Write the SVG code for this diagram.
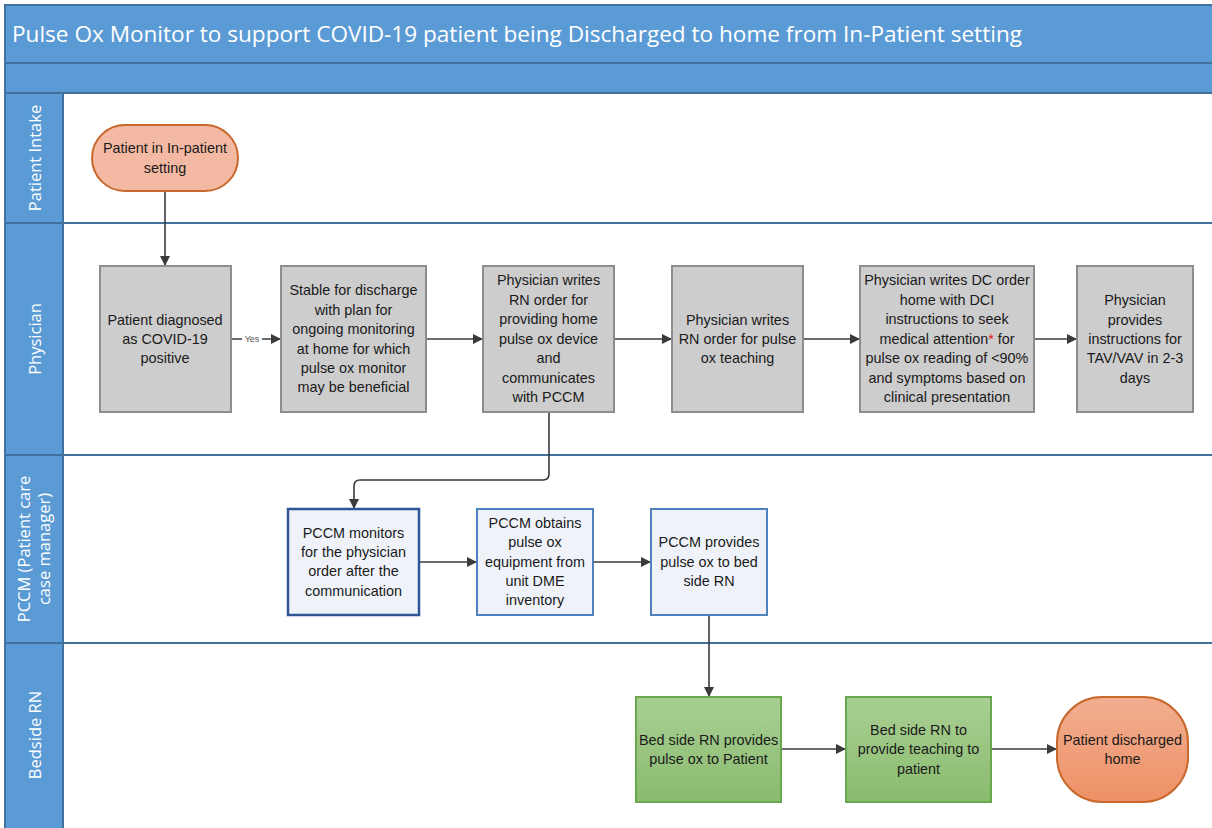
<svg xmlns="http://www.w3.org/2000/svg" width="1212" height="828" viewBox="0 0 1212 828">
  <defs>
    <marker id="arrow" markerWidth="10" markerHeight="10" refX="9" refY="5" orient="auto" markerUnits="userSpaceOnUse">
      <path d="M0,0 L10,5 L0,10 Z" fill="#3a3a3a"/>
    </marker>
    <linearGradient id="greenFill" x1="0" y1="0" x2="0" y2="1">
      <stop offset="0" stop-color="#a9cf94"/>
      <stop offset="1" stop-color="#8abb6e"/>
    </linearGradient>
    <linearGradient id="endFill" x1="0" y1="0" x2="0" y2="1">
      <stop offset="0" stop-color="#f1ae90"/>
      <stop offset="1" stop-color="#ee9166"/>
    </linearGradient>
    <style>
      .band { fill: #5b9bd5; stroke: #41719c; stroke-width: 2; }
      .lane-line { stroke: #41719c; stroke-width: 2; }
      .lane-label { font-family: "Open Sans", "Liberation Sans", sans-serif; font-size: 16.5px; fill: #ffffff; text-anchor: middle; }
      .title { font-family: "Open Sans", "Liberation Sans", sans-serif; font-size: 21px; fill: #ffffff; }
      .txt { font-family: "Liberation Sans", Arial, sans-serif; font-size: 14.4px; fill: #1a1a1a; text-anchor: middle; }
      .gray { fill: #cdcdcd; stroke: #8d8d8d; stroke-width: 2; }
      .pccm { fill: #eff2f9; stroke: #4f81bd; stroke-width: 2; }
      .pccm-dark { fill: #eff2f9; stroke: #2f5597; stroke-width: 2.5; }
      .green { fill: url(#greenFill); stroke: #6aa84f; stroke-width: 2; }
      .start { fill: #f4b9a3; stroke: #c8682c; stroke-width: 2; }
      .end { fill: url(#endFill); stroke: #c8682c; stroke-width: 2; }
      .conn { fill: none; stroke: #3a3a3a; stroke-width: 1.6; marker-end: url(#arrow); }
      .yes { font-family: "Liberation Sans", Arial, sans-serif; font-size: 9px; fill: #555555; text-anchor: middle; }
    </style>
  </defs>

  <rect width="1212" height="828" fill="#ffffff"/>

  <!-- pool header bands -->
  <rect class="band" x="5" y="5" width="1210" height="58"/>
  <text class="title" x="12" y="42" textLength="1010" lengthAdjust="spacingAndGlyphs">Pulse Ox Monitor to support COVID-19 patient being Discharged to home from In-Patient setting</text>
  <rect class="band" x="5" y="63" width="1210" height="30"/>

  <!-- lane header column -->
  <rect class="band" x="5" y="93" width="58" height="740"/>
  <line class="lane-line" x1="5" y1="223" x2="1212" y2="223"/>
  <line class="lane-line" x1="5" y1="455" x2="1212" y2="455"/>
  <line class="lane-line" x1="5" y1="643" x2="1212" y2="643"/>

  <text class="lane-label" transform="translate(41,158) rotate(-90)">Patient Intake</text>
  <text class="lane-label" transform="translate(41,339) rotate(-90)">Physician</text>
  <text class="lane-label" transform="translate(30,549) rotate(-90)">PCCM (Patient care</text>
  <text class="lane-label" transform="translate(50,549) rotate(-90)">case manager)</text>
  <text class="lane-label" transform="translate(41,735) rotate(-90)">Bedside RN</text>

  <!-- connectors -->
  <g id="connectors">
    <path class="conn" d="M165,191 L165,265"/>
    <path class="conn" d="M231,339 L280,339"/>
    <rect x="242" y="333" width="20" height="11" fill="#ffffff"/>
    <text class="yes" x="252" y="342">Yes</text>
    <path class="conn" d="M426,339 L482,339"/>
    <path class="conn" d="M614,339 L671,339"/>
    <path class="conn" d="M803,339 L859,339"/>
    <path class="conn" d="M1034,339 L1076,339"/>
    <path class="conn" d="M549,412 L549,474 Q549,480 543,480 L360,480 Q354,480 354,486 L354,508"/>
    <path class="conn" d="M419,562 L476,562"/>
    <path class="conn" d="M593,562 L650,562"/>
    <path class="conn" d="M709,615 L709,696"/>
    <path class="conn" d="M781,749 L845,749"/>
    <path class="conn" d="M991,749 L1056,749"/>
  </g>

  <!-- Patient Intake lane -->
  <g id="start">
    <rect class="start" x="92" y="125" width="146" height="66" rx="33" ry="33"/>
    <text class="txt" x="165" y="153">Patient in In-patient</text>
    <text class="txt" x="165" y="173">setting</text>
  </g>

  <!-- Physician lane -->
  <g id="diagnosed">
    <rect class="gray" x="100" y="266" width="131" height="146"/>
    <text class="txt" x="165" y="325">Patient diagnosed</text>
    <text class="txt" x="165" y="344">as COVID-19</text>
    <text class="txt" x="165" y="363">positive</text>
  </g>
  <g id="stable">
    <rect class="gray" x="281" y="266" width="145" height="146"/>
    <text class="txt" x="353.5" y="295">Stable for discharge</text>
    <text class="txt" x="353.5" y="315">with plan for</text>
    <text class="txt" x="353.5" y="334">ongoing monitoring</text>
    <text class="txt" x="353.5" y="354">at home for which</text>
    <text class="txt" x="353.5" y="373">pulse ox monitor</text>
    <text class="txt" x="353.5" y="392">may be beneficial</text>
  </g>
  <g id="rn-order-device">
    <rect class="gray" x="483" y="266" width="131" height="146"/>
    <text class="txt" x="548.5" y="285">Physician writes</text>
    <text class="txt" x="548.5" y="305">RN order for</text>
    <text class="txt" x="548.5" y="324">providing home</text>
    <text class="txt" x="548.5" y="344">pulse ox device</text>
    <text class="txt" x="548.5" y="363">and</text>
    <text class="txt" x="548.5" y="383">communicates</text>
    <text class="txt" x="548.5" y="402">with PCCM</text>
  </g>
  <g id="rn-order-teaching">
    <rect class="gray" x="672" y="266" width="131" height="146"/>
    <text class="txt" x="737.5" y="325">Physician writes</text>
    <text class="txt" x="737.5" y="344">RN order for pulse</text>
    <text class="txt" x="737.5" y="363">ox teaching</text>
  </g>
  <g id="dc-order">
    <rect class="gray" x="860" y="266" width="174" height="146"/>
    <text class="txt" x="947" y="285">Physician writes DC order</text>
    <text class="txt" x="947" y="305">home with DCI</text>
    <text class="txt" x="947" y="324">instructions to seek</text>
    <text class="txt" x="947" y="344">medical attention<tspan fill="#e02020">*</tspan> for</text>
    <text class="txt" x="947" y="363">pulse ox reading of &lt;90%</text>
    <text class="txt" x="947" y="383">and symptoms based on</text>
    <text class="txt" x="947" y="402">clinical presentation</text>
  </g>
  <g id="tav-vav">
    <rect class="gray" x="1077" y="266" width="116" height="146"/>
    <text class="txt" x="1135" y="305">Physician</text>
    <text class="txt" x="1135" y="325">provides</text>
    <text class="txt" x="1135" y="344">instructions for</text>
    <text class="txt" x="1135" y="363">TAV/VAV in 2-3</text>
    <text class="txt" x="1135" y="383">days</text>
  </g>

  <!-- PCCM lane -->
  <g id="pccm-monitors">
    <rect class="pccm-dark" x="288" y="509" width="131" height="106"/>
    <text class="txt" x="353.5" y="538">PCCM monitors</text>
    <text class="txt" x="353.5" y="557">for the physician</text>
    <text class="txt" x="353.5" y="576">order after the</text>
    <text class="txt" x="353.5" y="596">communication</text>
  </g>
  <g id="pccm-obtains">
    <rect class="pccm" x="477" y="509" width="116" height="106"/>
    <text class="txt" x="535" y="528">PCCM obtains</text>
    <text class="txt" x="535" y="547">pulse ox</text>
    <text class="txt" x="535" y="567">equipment from</text>
    <text class="txt" x="535" y="586">unit DME</text>
    <text class="txt" x="535" y="605">inventory</text>
  </g>
  <g id="pccm-provides">
    <rect class="pccm" x="651" y="509" width="116" height="106"/>
    <text class="txt" x="709" y="547">PCCM provides</text>
    <text class="txt" x="709" y="567">pulse ox to bed</text>
    <text class="txt" x="709" y="586">side RN</text>
  </g>

  <!-- Bedside RN lane -->
  <g id="rn-provides">
    <rect class="green" x="636" y="697" width="145" height="105"/>
    <text class="txt" x="708.5" y="745">Bed side RN provides</text>
    <text class="txt" x="708.5" y="764">pulse ox to Patient</text>
  </g>
  <g id="rn-teaching">
    <rect class="green" x="846" y="697" width="145" height="105"/>
    <text class="txt" x="918.5" y="735">Bed side RN to</text>
    <text class="txt" x="918.5" y="754">provide teaching to</text>
    <text class="txt" x="918.5" y="774">patient</text>
  </g>
  <g id="end">
    <rect class="end" x="1057" y="697" width="131" height="105" rx="45" ry="45"/>
    <text class="txt" x="1122.5" y="745">Patient discharged</text>
    <text class="txt" x="1122.5" y="764">home</text>
  </g>
</svg>
